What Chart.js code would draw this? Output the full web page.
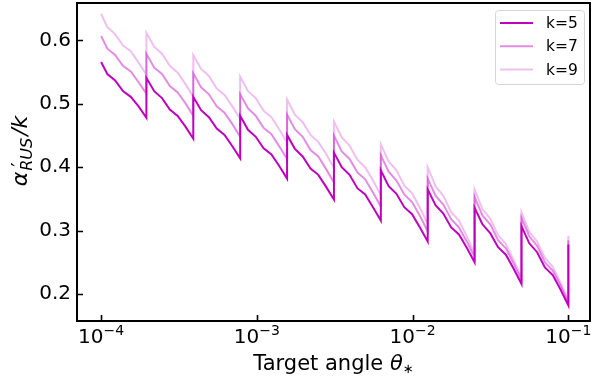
<!DOCTYPE html>
<html>
<head>
<meta charset="utf-8">
<script src="https://cdn.jsdelivr.net/npm/chart.js@4.4.1/dist/chart.umd.min.js"></script>
<style>
  html, body { margin: 0; padding: 0; background: #fff; }
</style>
</head>
<body>
<canvas id="myChart" width="592" height="384"></canvas>
<script>
  // Target angles (theta_*), jumps sit at 0.1 / 2^n
  const angles = [
    1.0e-4, 1.096e-4, 1.230e-4, 1.381e-4, 1.550e-4, 1.740e-4, 1.953e-4,
    1.953e-4, 2.192e-4, 2.461e-4, 2.762e-4, 3.100e-4, 3.480e-4, 3.906e-4,
    3.906e-4, 4.385e-4, 4.922e-4, 5.524e-4, 6.201e-4, 6.960e-4, 7.813e-4,
    7.813e-4, 8.769e-4, 9.843e-4, 1.105e-3, 1.240e-3, 1.392e-3, 1.563e-3,
    1.563e-3, 1.754e-3, 1.969e-3, 2.210e-3, 2.480e-3, 2.784e-3, 3.125e-3,
    3.125e-3, 3.508e-3, 3.937e-3, 4.419e-3, 4.961e-3, 5.568e-3, 6.250e-3,
    6.250e-3, 7.015e-3, 7.875e-3, 8.839e-3, 9.921e-3, 1.114e-2, 1.250e-2,
    1.250e-2, 1.403e-2, 1.575e-2, 1.768e-2, 1.984e-2, 2.227e-2, 2.500e-2,
    2.500e-2, 2.806e-2, 3.150e-2, 3.536e-2, 3.969e-2, 4.454e-2, 5.000e-2,
    5.000e-2, 5.612e-2, 6.300e-2, 7.071e-2, 7.937e-2, 8.909e-2, 1.000e-1,
    1.000e-1
  ];

  // alpha'_RUS / k for each k
  const k5 = [
    0.566, 0.547, 0.537, 0.520, 0.511, 0.496, 0.478,
    0.541, 0.520, 0.509, 0.491, 0.481, 0.464, 0.445,
    0.511, 0.490, 0.479, 0.461, 0.451, 0.433, 0.414,
    0.481, 0.459, 0.448, 0.430, 0.420, 0.402, 0.382,
    0.451, 0.429, 0.417, 0.398, 0.388, 0.369, 0.349,
    0.423, 0.400, 0.388, 0.367, 0.357, 0.337, 0.316,
    0.395, 0.370, 0.358, 0.337, 0.326, 0.305, 0.283,
    0.365, 0.340, 0.327, 0.305, 0.294, 0.273, 0.250,
    0.336, 0.310, 0.296, 0.274, 0.262, 0.240, 0.216,
    0.307, 0.280, 0.266, 0.242, 0.230, 0.207, 0.182,
    0.278
  ];
  const k7 = [
    0.607, 0.587, 0.577, 0.560, 0.551, 0.534, 0.516,
    0.579, 0.557, 0.547, 0.528, 0.518, 0.501, 0.481,
    0.548, 0.526, 0.515, 0.496, 0.486, 0.468, 0.448,
    0.515, 0.493, 0.481, 0.462, 0.452, 0.433, 0.413,
    0.483, 0.460, 0.448, 0.427, 0.417, 0.397, 0.376,
    0.450, 0.425, 0.413, 0.392, 0.381, 0.360, 0.338,
    0.419, 0.393, 0.379, 0.357, 0.345, 0.323, 0.299,
    0.382, 0.355, 0.341, 0.318, 0.305, 0.283, 0.258,
    0.353, 0.324, 0.310, 0.285, 0.272, 0.248, 0.222,
    0.320, 0.291, 0.276, 0.250, 0.237, 0.213, 0.186,
    0.285
  ];
  const k9 = [
    0.642, 0.621, 0.610, 0.592, 0.583, 0.565, 0.546,
    0.612, 0.590, 0.579, 0.560, 0.549, 0.531, 0.511,
    0.577, 0.555, 0.544, 0.524, 0.514, 0.496, 0.476,
    0.543, 0.520, 0.509, 0.489, 0.479, 0.460, 0.439,
    0.507, 0.483, 0.471, 0.451, 0.440, 0.421, 0.399,
    0.472, 0.447, 0.434, 0.412, 0.400, 0.379, 0.356,
    0.436, 0.409, 0.395, 0.371, 0.359, 0.336, 0.311,
    0.400, 0.370, 0.355, 0.329, 0.316, 0.291, 0.264,
    0.365, 0.334, 0.319, 0.293, 0.279, 0.254, 0.226,
    0.329, 0.298, 0.283, 0.257, 0.243, 0.218, 0.190,
    0.292
  ];

  const seriesLabels = ['k=5', 'k=7', 'k=9'];
  const xTicks = [1e-4, 1e-3, 1e-2, 1e-1];
  const xTickExp = ['\u22124', '\u22123', '\u22122', '\u22121'];
  const yTicks = [0.2, 0.3, 0.4, 0.5, 0.6];

  const colors = ['rgba(191,0,191,1)', 'rgba(191,0,191,0.45)', 'rgba(191,0,191,0.25)'];
  const FONT = '"DejaVu Sans", sans-serif';

  const toPoints = ys => angles.map((x, i) => ({ x: x, y: ys[i] }));

  // frame, inward ticks, x labels, axis titles and legend
  const decorations = {
    id: 'decorations',
    afterDraw(chart) {
      const ctx = chart.ctx;
      const a = chart.chartArea;
      const xs = chart.scales.x, ys = chart.scales.y;
      ctx.save();
      ctx.strokeStyle = '#000';
      ctx.lineWidth = 2;
      ctx.strokeRect(a.left, a.top, a.right - a.left, a.bottom - a.top);

      ctx.lineWidth = 1.6;
      ctx.beginPath();
      yTicks.forEach(v => {
        const py = Math.round(ys.getPixelForValue(v)) + 0.5;
        ctx.moveTo(a.left, py); ctx.lineTo(a.left + 6, py);
      });
      xTicks.forEach(v => {
        const px = Math.round(xs.getPixelForValue(v)) + 0.5;
        ctx.moveTo(px, a.bottom); ctx.lineTo(px, a.bottom - 6);
      });
      ctx.stroke();

      // x tick labels 10^-n
      ctx.fillStyle = '#000';
      ctx.textBaseline = 'alphabetic';
      ctx.textAlign = 'left';
      xTicks.forEach((v, i) => {
        const px = xs.getPixelForValue(v);
        ctx.font = '20px ' + FONT;
        const wb = ctx.measureText('10').width;
        ctx.font = '14px ' + FONT;
        const we = ctx.measureText(xTickExp[i]).width;
        const x0 = px - (wb + we) / 2;
        ctx.font = '20px ' + FONT;
        ctx.fillText('10', x0, 343);
        ctx.font = '14px ' + FONT;
        ctx.fillText(xTickExp[i], x0 + wb, 335);
      });

      // x title
      const t1 = 'Target angle ';
      ctx.font = '21px ' + FONT;
      const w1 = ctx.measureText(t1).width;
      ctx.font = 'italic 21px ' + FONT;
      const w2 = ctx.measureText('\u03b8').width;
      ctx.font = '13px ' + FONT;
      const w3 = ctx.measureText('\u2217').width;
      let tx = (a.left + a.right) / 2 - (w1 + w2 + w3) / 2;
      ctx.font = '21px ' + FONT;
      ctx.fillText(t1, tx, 370);
      ctx.font = 'italic 21px ' + FONT;
      ctx.fillText('\u03b8', tx + w1, 370);
      ctx.font = '13px ' + FONT;
      ctx.fillText('\u2217', tx + w1 + w2, 373);

      // y title alpha'_RUS / k
      ctx.save();
      ctx.translate(27, 151);
      ctx.rotate(-Math.PI / 2);
      ctx.font = 'italic 22px ' + FONT;
      const wa = ctx.measureText('\u03b1').width;
      ctx.font = 'italic 16px ' + FONT;
      const wr = ctx.measureText('RUS').width;
      ctx.font = 'italic 22px ' + FONT;
      const wk = ctx.measureText('/k').width;
      let yx = -(wa + wr + wk + 3) / 2;
      ctx.font = 'italic 22px ' + FONT;
      ctx.fillText('\u03b1', yx, 0);
      ctx.font = '20px ' + FONT;
      ctx.fillText('\u2032', yx + wa + 5, -2);
      ctx.font = 'italic 16px ' + FONT;
      ctx.fillText('RUS', yx + wa + 1, 5);
      ctx.font = 'italic 22px ' + FONT;
      ctx.fillText('/k', yx + wa + wr + 3, 0);
      ctx.restore();

      // legend
      const lx = 495, ly = 10, lw = 89, lh = 74;
      ctx.fillStyle = 'rgba(255,255,255,0.85)';
      ctx.strokeStyle = '#d6d6d6';
      ctx.lineWidth = 1;
      ctx.beginPath();
      ctx.roundRect(lx + 0.5, ly + 0.5, lw, lh, 3);
      ctx.fill();
      ctx.stroke();
      ctx.font = '15.5px ' + FONT;
      ctx.textBaseline = 'middle';
      chart.data.datasets.forEach((ds, i) => {
        const yy = 23 + i * 23.3;
        ctx.strokeStyle = ds.borderColor;
        ctx.lineWidth = 2;
        ctx.beginPath();
        ctx.moveTo(500, yy); ctx.lineTo(533, yy);
        ctx.stroke();
        ctx.fillStyle = '#000';
        ctx.fillText(ds.label, 546, yy + 1);
      });
      ctx.restore();
    }
  };

  const myChart = new Chart(document.getElementById('myChart').getContext('2d'), {
    type: 'line',
    data: {
      datasets: [k5, k7, k9].map((ys, i) => ({
        label: seriesLabels[i],
        data: toPoints(ys),
        borderColor: colors[i],
        borderWidth: 2,
        pointRadius: 0,
        tension: 0,
        fill: false,
        order: 3 - i
      }))
    },
    options: {
      responsive: false,
      animation: false,
      devicePixelRatio: 1,
      layout: { padding: { top: 3, right: 2, left: 0, bottom: 0 } },
      plugins: { legend: { display: false }, tooltip: { enabled: false } },
      scales: {
        x: {
          type: 'logarithmic',
          min: 7.0e-5,
          max: 0.1377,
          grid: { display: false, drawTicks: false },
          border: { display: false },
          ticks: { display: false },
          afterBuildTicks: s => { s.ticks = xTicks.map(v => ({ value: v })); },
          afterFit: s => { s.height = 63; s.paddingLeft = 0; s.paddingRight = 0; }
        },
        y: {
          type: 'linear',
          min: 0.1575,
          max: 0.659,
          grid: { display: false, drawTicks: false },
          border: { display: false },
          ticks: {
            color: '#000',
            padding: 6,
            font: { family: 'DejaVu Sans', size: 20 },
            callback: v => v.toFixed(1)
          },
          afterBuildTicks: s => { s.ticks = yTicks.map(v => ({ value: v })); },
          afterFit: s => { s.width = 77; s.paddingTop = 0; s.paddingBottom = 0; }
        }
      }
    },
    plugins: [decorations]
  });
</script>
</body>
</html>
